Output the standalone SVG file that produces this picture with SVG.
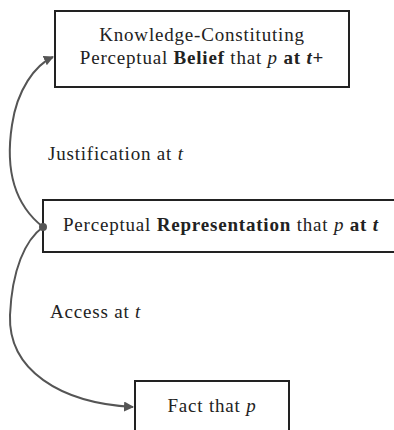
<svg xmlns="http://www.w3.org/2000/svg" width="394" height="430" viewBox="0 0 394 430">
<style>
.box{fill:#fff;stroke:#222;stroke-width:2}
.t{font-family:"Liberation Serif","DejaVu Serif",serif;font-size:19px;letter-spacing:0.8px;fill:#222}
.b{font-weight:bold}
.i{font-style:italic}
.c{fill:none;stroke:#555;stroke-width:2}
</style>
<defs>
<marker id="ah" viewBox="0 0 10 10" refX="9" refY="5" markerWidth="5" markerHeight="5" orient="auto" markerUnits="strokeWidth">
<path d="M0,0 L10,5 L0,10 z" fill="#555"/>
</marker>
</defs>
<g id="belief">
<rect class="box" x="55" y="11" width="294" height="76"/>
<text class="t" x="202" y="41" text-anchor="middle">Knowledge-Constituting</text>
<text class="t" x="202" y="64" text-anchor="middle">Perceptual <tspan class="b">Belief</tspan> that <tspan class="i">p</tspan> <tspan class="b">at <tspan class="i">t</tspan>+</tspan></text>
</g>
<g id="representation">
<rect class="box" x="43" y="200" width="360" height="52"/>
<text class="t" x="63" y="231">Perceptual <tspan class="b">Representation</tspan> that <tspan class="i">p</tspan> <tspan class="b">at <tspan class="i">t</tspan></tspan></text>
</g>
<g id="fact">
<rect class="box" x="135" y="381" width="154" height="60"/>
<text class="t" x="212" y="412" text-anchor="middle">Fact that <tspan class="i">p</tspan></text>
</g>
<g id="labels">
<text class="t" x="48" y="160">Justification at <tspan class="i">t</tspan></text>
<text class="t" x="50" y="318">Access at <tspan class="i">t</tspan></text>
</g>
<g id="connectors">
<path class="c" d="M43,227 C15,205 5,170 12,125 C17,90 35,65 53,57" marker-end="url(#ah)"/>
<path class="c" d="M43,227 C25,240 12,270 10,315 C8,370 60,403 133,407" marker-end="url(#ah)"/>
<circle cx="43" cy="227" r="4" fill="#555"/>
</g>
</svg>
